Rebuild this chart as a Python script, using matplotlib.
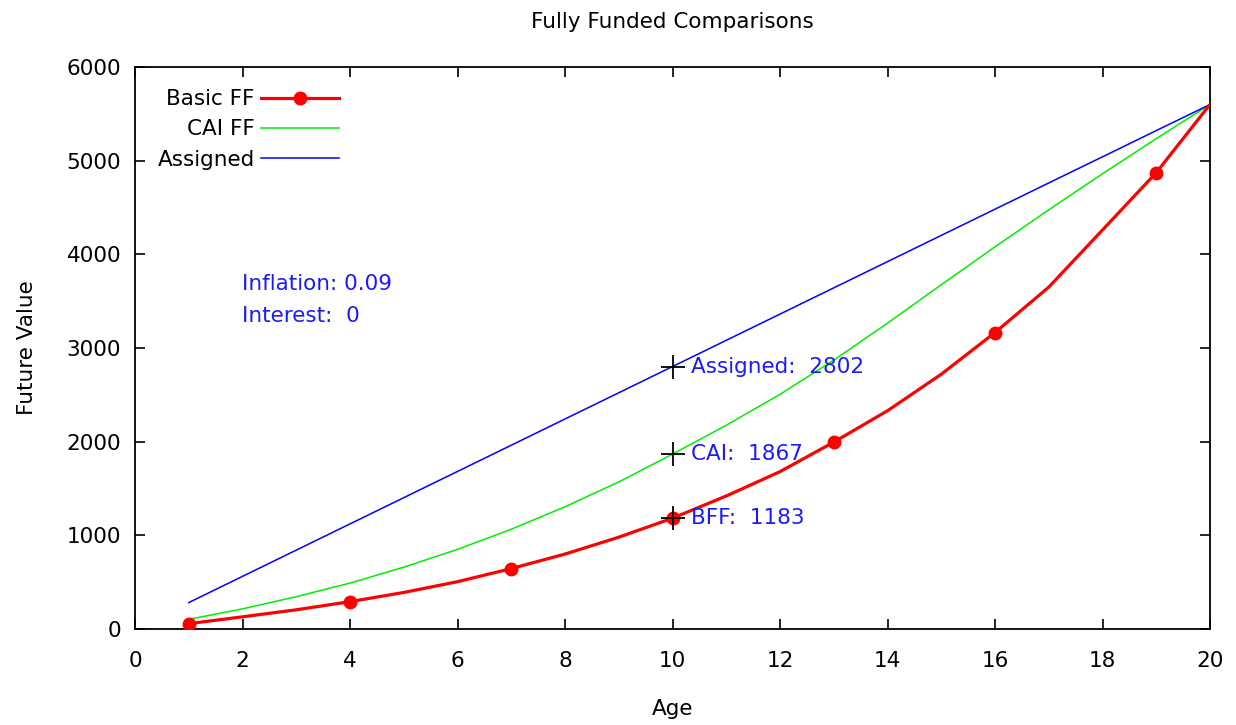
import matplotlib
matplotlib.use("Agg")
import matplotlib.pyplot as plt

ages = list(range(1, 21))
basic_ff = [57, 130, 205, 292, 390, 505, 645, 800, 980, 1183,
            1420, 1680, 1995, 2330, 2720, 3165, 3650, 4260, 4872, 5600]
cai_ff = [103, 215, 345, 490, 660, 850, 1065, 1305, 1570, 1867,
          2175, 2505, 2870, 3265, 3675, 4080, 4475, 4860, 5235, 5600]
assigned = [282, 562, 842, 1122, 1402, 1682, 1962, 2242, 2522, 2802,
            3082, 3362, 3642, 3922, 4202, 4482, 4762, 5041, 5321, 5600]

mark_age = 10
mark_vals = {"Assigned": 2802, "CAI": 1867, "BFF": 1183}
params = ["Inflation: 0.09", "Interest:  0"]

FS = 15.5
plt.rcParams['font.family'] = ['DejaVu Sans']
fig = plt.figure(figsize=(12.36, 7.25), dpi=100)
L, R, B, T = 135 / 1236, 1210 / 1236, 1 - 629 / 725, 1 - 67 / 725
ax = fig.add_axes([L, B, R - L, T - B])

ax.plot(ages, basic_ff, color='#ff0000', lw=2.3, marker='o', markersize=9,
        markevery=3, label='Basic FF', zorder=4)
ax.plot(ages, cai_ff, color='#00ee00', lw=1.1, label='CAI FF', zorder=3)
ax.plot(ages, assigned, color='#0000ff', lw=1.1, label='Assigned', zorder=3)

for name, v in mark_vals.items():
    ax.plot([mark_age], [v], marker='+', color='black', markersize=17,
            mew=1.3, zorder=5)
    ax.annotate(f"{name}:  {v}", (mark_age, v), xytext=(13, 0),
                textcoords='offset points', va='center', ha='left',
                color='#1a1aff', fontsize=FS, zorder=6)

ax.text(2, 3683, params[0], color='#1a1aff', fontsize=FS, va='center', ha='left')
ax.text(2, 3341, params[1], color='#1a1aff', fontsize=FS, va='center', ha='left')

ax.set_xlim(0, 20)
ax.set_ylim(0, 6000)
ax.set_xticks(range(0, 21, 2))
ax.set_yticks(range(0, 6001, 1000))
ax.tick_params(direction='in', length=7, width=1.2, top=True, right=True,
               labelsize=FS, colors='black')
ax.tick_params(axis='x', pad=16)
ax.tick_params(axis='y', pad=10)
for s in ax.spines.values():
    s.set_linewidth(1.3)

ax.set_title("Fully Funded Comparisons", fontsize=FS, pad=28)
ax.set_xlabel("Age", fontsize=FS, labelpad=20)
ax.set_ylabel("Future Value", fontsize=FS, labelpad=21)

leg = ax.legend(loc='upper left', markerfirst=False, frameon=False,
                fontsize=FS, handlelength=3.6, handletextpad=0.3,
                labelspacing=0.48, borderaxespad=0.0,
                bbox_to_anchor=(0.013, 0.976))
for t in leg.get_texts():
    t.set_ha('right')
leg._legend_box.align = 'right'

fig.savefig("out.png", dpi=100)
